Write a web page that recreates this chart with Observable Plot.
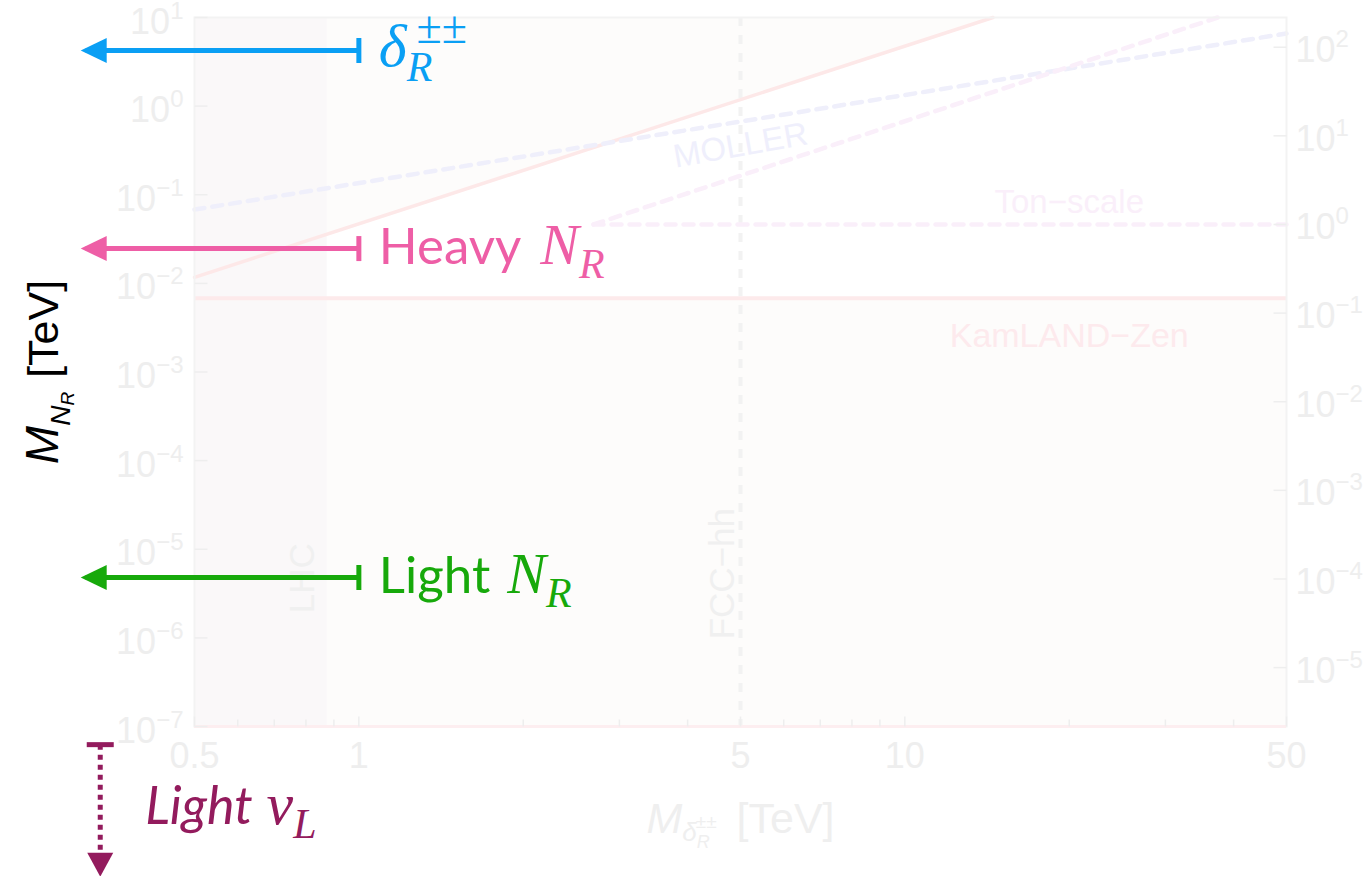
<!DOCTYPE html>
<html>
<head>
<meta charset="utf-8">
<script src="https://cdn.jsdelivr.net/npm/d3@7"></script>
<script src="https://cdn.jsdelivr.net/npm/@observablehq/plot@0.6"></script>
<style>
  html, body { margin: 0; padding: 0; background: #fff; overflow: hidden; }
</style>
</head>
<body>
<div id="chart"></div>
<script>
const SANS = "Liberation Sans, Arial, sans-serif";
const SERIF = "Liberation Serif, Times New Roman, serif";
const ROUND = "Lato, sans-serif";

// ---- axis ticks ----
const xMajor = [0.5, 1, 5, 10, 50];
const xMajorLabels = ["0.5", "1", "5", "10", "50"];
const xMinor = [0.6, 0.7, 0.8, 0.9, 2, 3, 4, 6, 7, 8, 9, 20, 30, 40];
const yLeftExp = [1, 0, -1, -2, -3, -4, -5, -6, -7];
const yRightExp = [2, 1, 0, -1, -2, -3, -4, -5];
const rightUnit = 0.0462;            // M_N (TeV) at which the right-hand axis reads 1

// ---- bounds in the (M_delta, M_N) plane, TeV ----
const lhcReach = 0.875;
const fccReach = 5;
const diagonalX = [0.5, 14.5];
const diagonalY = [0.0117, 10];
const kamlandY = 0.0068;
const mollerX = [0.5, 50];
const mollerY = [0.068, 6.6];
const tonFlatX = [2.69, 50];
const tonFlatY = [0.0462, 0.0462];
const tonRiseX = [2.69, 37.4];
const tonRiseY = [0.0462, 10];

// ---- regime arrows ----
const regimeY = [4.24, 0.0247, 4.8e-6];
const regimeColor = ["#0a9ff4", "#ee5ea6", "#17a90b"];
const arrowStart = 1;
const arrowEnd = 0.316;
const nuX = 0.336;
const nuStart = 6.24e-8;
const nuEnd = 2.3e-9;
const nuColor = "#931b5d";

// ---- rich text (sub/superscripts), keyed by plain text ----
const richLabels = {};
function rich(spans) {
  const key = spans.map(s => s.t).join("");
  richLabels[key] = spans;
  return key;
}
const regimeLabels = [
  rich([{t: "δ", family: SERIF, italic: true, size: 60},
        {t: "R", family: SERIF, italic: true, size: 42, dy: 15},
        {t: "±±", family: SERIF, size: 46, dx: -16, dy: -38}]),
  rich([{t: "Heavy", family: ROUND, size: 51},
        {t: "N", family: SERIF, italic: true, size: 58, dx: 19},
        {t: "R", family: SERIF, italic: true, size: 42, dy: 14}]),
  rich([{t: "Light", family: ROUND, size: 51},
        {t: "N", family: SERIF, italic: true, size: 58, dx: 17},
        {t: "R", family: SERIF, italic: true, size: 42, dy: 14}])
];
const nuLabel = rich([{t: "Light", family: ROUND, italic: true, size: 52},
                      {t: "ν", family: SERIF, italic: true, size: 60, dx: 14},
                      {t: "L", family: SERIF, italic: true, size: 42, dy: 14}]);
const yTitle = rich([{t: "M", family: SANS, italic: true, size: 46},
                     {t: "N", family: SANS, italic: true, size: 28, dy: 12},
                     {t: "R", family: SANS, italic: true, size: 19, dy: 4},
                     {t: "[TeV]", family: SANS, size: 43, dx: 14, dy: -16}]);
const xTitle = rich([{t: "M", family: SANS, italic: true, size: 43},
                     {t: "δ", family: SANS, italic: true, size: 26, dy: 8},
                     {t: "R", family: SANS, italic: true, size: 18, dy: 7},
                     {t: "±±", family: SANS, size: 19, dx: -14, dy: -20},
                     {t: "[TeV]", family: SANS, size: 43, dx: 20, dy: 5}]);

const fmtExp = e => (e < 0 ? "−" + (-e) : String(e));

// ---- custom symbols ----
const seg = (dx, dy) => ({draw(ctx) { ctx.moveTo(0, 0); ctx.lineTo(dx, dy); }});
const poly = pts => ({draw(ctx) {
  ctx.moveTo(pts[0][0], pts[0][1]);
  for (const p of pts.slice(1)) ctx.lineTo(p[0], p[1]);
  ctx.closePath();
}});
const headLeft = poly([[-5, 0], [21, -12.5], [21, 12.5]]);
const headDown = poly([[0, 5], [-13, -19], [13, -19]]);
const capV = poly([[-2.5, -12.5], [2.5, -12.5], [2.5, 12.5], [-2.5, 12.5]]);
const capH = poly([[-13.5, -2.5], [13.5, -2.5], [13.5, 2.5], [-13.5, 2.5]]);

// ---- tables ----
const pts = (xs, ys) => xs.map((x, i) => ({x, y: ys[i]}));
const yMin = 1e-7, yMax = 10, xMin = 0.5, xMax = 50;
const tint = "#fdfcfb";
const faint = "#eeeeee";

const leftTicks = yLeftExp.map(e => ({x: xMin, y: 10 ** e, label: "10^" + fmtExp(e)}));
const rightTicks = yRightExp.map(e => ({x: xMax, y: 10 ** e * rightUnit, label: "10^" + fmtExp(e)}));
const bottomMajor = xMajor.map((x, i) => ({x, y: yMin, label: xMajorLabels[i]}));
const bottomMinor = xMinor.map(x => ({x, y: yMin}));

const regimeMarks = regimeLabels.flatMap((label, i) => {
  const row = [{x1: arrowStart, x2: arrowEnd, y: regimeY[i]}];
  const c = regimeColor[i];
  return [
    Plot.link(row, {x1: "x1", x2: "x2", y1: "y", y2: "y", stroke: c, strokeWidth: 5}),
    Plot.dot(row, {x: "x2", y: "y", symbol: headLeft, fill: c, stroke: "none"}),
    Plot.dot(row, {x: "x1", y: "y", symbol: capV, fill: c, stroke: "none"}),
    Plot.text(row, {x: "x1", y: "y", text: () => label, dx: 20, dy: 15,
      textAnchor: "start", lineAnchor: "bottom", fill: c, fontSize: 51})
  ];
});
const nuRow = [{x: nuX, y1: nuStart, y2: nuEnd}];

const chart = Plot.plot({
  width: 1367,
  height: 876,
  marginLeft: 194,
  marginRight: 81,
  marginTop: 17,
  marginBottom: 150,
  x: {type: "log", domain: [xMin, xMax], axis: null},
  y: {type: "log", domain: [yMin, yMax], axis: null},
  style: {fontFamily: SANS, background: "white", overflow: "visible"},
  marks: [
    // excluded regions
    Plot.rect([{x1: xMin, x2: xMax, y1: yMin, y2: kamlandY}], {x1: "x1", x2: "x2", y1: "y1", y2: "y2", fill: tint}),
    Plot.areaY(diagonalX.map((x, i) => ({x, y1: diagonalY[i], y2: yMax})), {x: "x", y1: "y1", y2: "y2", fill: tint}),
    Plot.rect([{x1: xMin, x2: lhcReach, y1: yMin, y2: yMax}], {x1: "x1", x2: "x2", y1: "y1", y2: "y2", fill: "#faf8f9"}),
    // bounds
    Plot.ruleX([fccReach], {stroke: "#f2f2f2", strokeWidth: 4, strokeDasharray: "9,9"}),
    Plot.line(pts(diagonalX, diagonalY), {x: "x", y: "y", stroke: "#fde8e8", strokeWidth: 3.5}),
    Plot.ruleY([kamlandY], {stroke: "#fdeaeb", strokeWidth: 4}),
    Plot.line(pts(mollerX, mollerY), {x: "x", y: "y", stroke: "#efeffb", strokeWidth: 4.5, strokeDasharray: "10,8"}),
    Plot.line(pts(tonFlatX, tonFlatY), {x: "x", y: "y", stroke: "#faeffa", strokeWidth: 4.5, strokeDasharray: "10,8"}),
    Plot.line(pts(tonRiseX, tonRiseY), {x: "x", y: "y", stroke: "#faeffa", strokeWidth: 4.5, strokeDasharray: "10,8"}),
    // bound labels
    Plot.text([{x: 0.79, y: 4.7e-6}], {x: "x", y: "y", text: () => "LHC", rotate: -90, fontSize: 35, fill: "#f0f0f0"}),
    Plot.text([{x: 4.65, y: 5.3e-6}], {x: "x", y: "y", text: () => "FCC−hh", rotate: -90, fontSize: 35, fill: "#f0f0f0"}),
    Plot.text([{x: 5, y: 0.36}], {x: "x", y: "y", text: () => "MOLLER", rotate: -10, fontSize: 33, fill: "#efeffc"}),
    Plot.text([{x: 20, y: 0.0817}], {x: "x", y: "y", text: () => "Ton−scale", fontSize: 33, fill: "#faeffa"}),
    Plot.text([{x: 20, y: 0.00251}], {x: "x", y: "y", text: () => "KamLAND−Zen", fontSize: 34, fill: "#fdeaed"}),
    // frame and ticks
    Plot.frame({stroke: "#f3f3f3", strokeWidth: 2}),
    Plot.ruleY([yMin], {stroke: "#fdeef0", strokeWidth: 3}),
    Plot.dot(bottomMajor, {x: "x", y: "y", symbol: seg(0, -10), fill: "none", stroke: faint, strokeWidth: 1.5}),
    Plot.dot(bottomMinor, {x: "x", y: "y", symbol: seg(0, -7), fill: "none", stroke: faint, strokeWidth: 1.5}),
    Plot.dot(leftTicks, {x: "x", y: "y", symbol: seg(13, 0), fill: "none", stroke: faint, strokeWidth: 1.5}),
    Plot.dot(rightTicks, {x: "x", y: "y", symbol: seg(-13, 0), fill: "none", stroke: faint, strokeWidth: 1.5}),
    // tick labels
    Plot.text(leftTicks, {x: "x", y: "y", text: "label", dx: -11, dy: 16, textAnchor: "end", lineAnchor: "bottom", fontSize: 36, fill: faint}),
    Plot.text(rightTicks, {x: "x", y: "y", text: "label", dx: 9, dy: 15, textAnchor: "start", lineAnchor: "bottom", fontSize: 36, fill: faint}),
    Plot.text(bottomMajor, {x: "x", y: "y", text: "label", dy: 41, textAnchor: "middle", lineAnchor: "bottom", fontSize: 36, fill: faint}),
    // axis titles
    Plot.text([0], {frameAnchor: "bottom", text: () => xTitle, dy: 106, textAnchor: "middle", lineAnchor: "bottom", fontSize: 43, fill: "#efefef"}),
    Plot.text([0], {frameAnchor: "left", text: () => yTitle, dx: -137, rotate: -90, textAnchor: "middle", lineAnchor: "bottom", fontSize: 44, fill: "#000"}),
    // regime arrows
    ...regimeMarks,
    Plot.link(nuRow, {x1: "x", x2: "x", y1: "y1", y2: "y2", stroke: nuColor, strokeWidth: 5, strokeDasharray: "5,5"}),
    Plot.dot(nuRow, {x: "x", y: "y2", symbol: headDown, fill: nuColor, stroke: "none"}),
    Plot.dot(nuRow, {x: "x", y: "y1", symbol: capH, fill: nuColor, stroke: "none"}),
    Plot.text(nuRow, {x: "x", y: "y1", text: () => nuLabel, dx: 45, dy: 79,
      textAnchor: "start", lineAnchor: "bottom", fill: nuColor, fontSize: 52})
  ]
});

function applyRich(svg) {
  const ns = "http://www.w3.org/2000/svg";
  svg.querySelectorAll("text").forEach(node => {
    const key = node.textContent;
    let spans = richLabels[key];
    const m = /^10\^(.+)$/.exec(key);
    if (!spans && m) spans = [{t: "10"}, {t: m[1], size: 24, dy: -15}];
    if (!spans) return;
    node.textContent = "";
    for (const s of spans) {
      const ts = document.createElementNS(ns, "tspan");
      ts.textContent = s.t;
      if (s.family) ts.setAttribute("font-family", s.family);
      if (s.size) ts.setAttribute("font-size", s.size);
      if (s.italic) ts.setAttribute("font-style", "italic");
      if (s.dx) ts.setAttribute("dx", s.dx);
      if (s.dy) ts.setAttribute("dy", s.dy);
      node.appendChild(ts);
    }
  });
}
applyRich(chart);
document.getElementById("chart").appendChild(chart);
</script>
</body>
</html>
